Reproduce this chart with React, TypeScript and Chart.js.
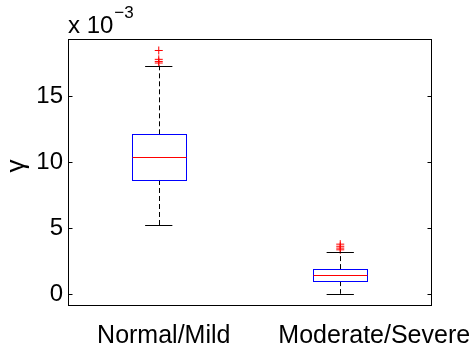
import React, { useEffect, useRef } from 'react';
import { Chart, registerables } from 'chart.js';

Chart.register(...registerables);

// ---- data (values in units of 1e-3) ----
const categories = ['Normal/Mild', 'Moderate/Severe'];
const lowerWhisker = [5.23, 0.02];
const q1 = [8.64, 0.98];
const median = [10.36, 1.42];
const q3 = [12.1, 1.89];
const upperWhisker = [17.3, 3.2];
const outliersNormal = [18.45, 17.78, 17.62, 17.5];
const outliersModerate = [3.78, 3.62, 3.48, 3.35];
const yTicks = [0, 5, 10, 15];
const yMin = -0.83;
const yMax = 19.32;
const exponentBase = 'x 10';
const exponentPower = '\u22123';
const yTitle = '\u03b3';

const FONT = "'Liberation Sans', Arial, Helvetica, sans-serif";
const BOX_HALF = 0.15;
const CAP_HALF = 0.075;
const LABEL_SHIFT = [5, 34];

const boxPlugin = {
  id: 'boxDraw',
  afterDatasetsDraw(chart: any) {
    const ctx = chart.ctx;
    const xs = chart.scales.x;
    const ys = chart.scales.y;
    const ca = chart.chartArea;
    const r = (v: number) => Math.round(v) + 0.5;
    ctx.save();
    ctx.lineWidth = 1;
    for (let i = 0; i < categories.length; i++) {
      const pos = i + 1;
      const cx = xs.getPixelForValue(pos);
      const bl = xs.getPixelForValue(pos - BOX_HALF);
      const br = xs.getPixelForValue(pos + BOX_HALF);
      const cl = xs.getPixelForValue(pos - CAP_HALF);
      const cr = xs.getPixelForValue(pos + CAP_HALF);
      const yq1 = ys.getPixelForValue(q1[i]);
      const yq3 = ys.getPixelForValue(q3[i]);
      const ymed = ys.getPixelForValue(median[i]);
      const ylo = ys.getPixelForValue(lowerWhisker[i]);
      const yhi = ys.getPixelForValue(upperWhisker[i]);
      // whiskers
      ctx.strokeStyle = '#000';
      ctx.setLineDash([5, 3]);
      ctx.beginPath();
      ctx.moveTo(r(cx), yq3);
      ctx.lineTo(r(cx), yhi);
      ctx.moveTo(r(cx), yq1);
      ctx.lineTo(r(cx), ylo);
      ctx.stroke();
      ctx.setLineDash([]);
      // caps
      ctx.beginPath();
      ctx.moveTo(cl, r(yhi));
      ctx.lineTo(cr, r(yhi));
      ctx.moveTo(cl, r(ylo));
      ctx.lineTo(cr, r(ylo));
      ctx.stroke();
      // box
      ctx.strokeStyle = '#0000ff';
      ctx.strokeRect(r(bl), r(yq3), Math.round(br - bl), Math.round(yq1 - yq3));
      // median
      ctx.strokeStyle = '#ff0000';
      ctx.beginPath();
      ctx.moveTo(r(bl), r(ymed));
      ctx.lineTo(r(br), r(ymed));
      ctx.stroke();
    }
    ctx.restore();
  },
  afterDraw(chart: any) {
    const ctx = chart.ctx;
    const xs = chart.scales.x;
    const ys = chart.scales.y;
    const ca = chart.chartArea;
    const r = (v: number) => Math.round(v) + 0.5;
    ctx.save();
    ctx.strokeStyle = '#000';
    ctx.lineWidth = 1;
    // frame
    ctx.strokeRect(r(ca.left), r(ca.top), Math.round(ca.right - ca.left), Math.round(ca.bottom - ca.top));
    // inward ticks on both sides
    ctx.beginPath();
    for (const t of yTicks) {
      const y = r(ys.getPixelForValue(t));
      ctx.moveTo(r(ca.left), y);
      ctx.lineTo(r(ca.left) + 4, y);
      ctx.moveTo(r(ca.right), y);
      ctx.lineTo(r(ca.right) - 4, y);
    }
    ctx.stroke();
    // category labels
    ctx.fillStyle = '#000';
    ctx.font = `25px ${FONT}`;
    ctx.textAlign = 'center';
    ctx.textBaseline = 'alphabetic';
    categories.forEach((c, i) => {
      ctx.fillText(c, xs.getPixelForValue(i + 1) + LABEL_SHIFT[i], 343);
    });
    // exponent label
    ctx.textAlign = 'left';
    ctx.font = `24px ${FONT}`;
    ctx.fillText(exponentBase, ca.left, 33);
    const w = ctx.measureText(exponentBase).width;
    ctx.font = `17px ${FONT}`;
    ctx.fillText(exponentPower, ca.left + w + 1, 18);
    // y title
    ctx.font = `26px ${FONT}`;
    ctx.translate(17, 166);
    ctx.rotate(-Math.PI / 2);
    ctx.textAlign = 'center';
    ctx.textBaseline = 'middle';
    ctx.fillText(yTitle, 0, 0);
    ctx.restore();
  },
};

export default function App() {
  const ref = useRef<HTMLCanvasElement | null>(null);
  useEffect(() => {
    if (!ref.current) return;
    const chart = new Chart(ref.current, {
      type: 'scatter',
      data: {
        datasets: [
          {
            data: outliersNormal.map((v) => ({ x: 1, y: v })),
            pointStyle: 'cross',
            radius: 4,
            borderColor: '#ff0000',
            borderWidth: 1,
            backgroundColor: '#ff0000',
          },
          {
            data: outliersModerate.map((v) => ({ x: 2, y: v })),
            pointStyle: 'cross',
            radius: 4,
            borderColor: '#ff0000',
            borderWidth: 1,
            backgroundColor: '#ff0000',
          },
        ],
      },
      options: {
        animation: false,
        responsive: false,
        maintainAspectRatio: false,
        layout: { padding: { top: 39, right: 43, bottom: 45, left: 0 } },
        plugins: { legend: { display: false }, tooltip: { enabled: false } },
        scales: {
          x: {
            type: 'linear',
            min: 0.5,
            max: 2.5,
            display: false,
          },
          y: {
            type: 'linear',
            min: yMin,
            max: yMax,
            afterFit: (s: any) => {
              s.width = 68;
            },
            grid: { display: false, drawTicks: false },
            border: { display: false },
            ticks: {
              includeBounds: false,
              stepSize: 5,
              padding: 5,
              color: '#000',
              font: { family: FONT, size: 24 },
              callback: (v: any) => (yTicks.includes(v) ? String(v) : ''),
            },
          },
        },
      },
      plugins: [boxPlugin],
    });
    return () => chart.destroy();
  }, []);
  return (
    <div style={{ position: 'fixed', left: 0, top: 0, width: 474, height: 350, background: '#fff' }}>
      <canvas ref={ref} width={474} height={350} style={{ width: 474, height: 350 }} />
    </div>
  );
}
